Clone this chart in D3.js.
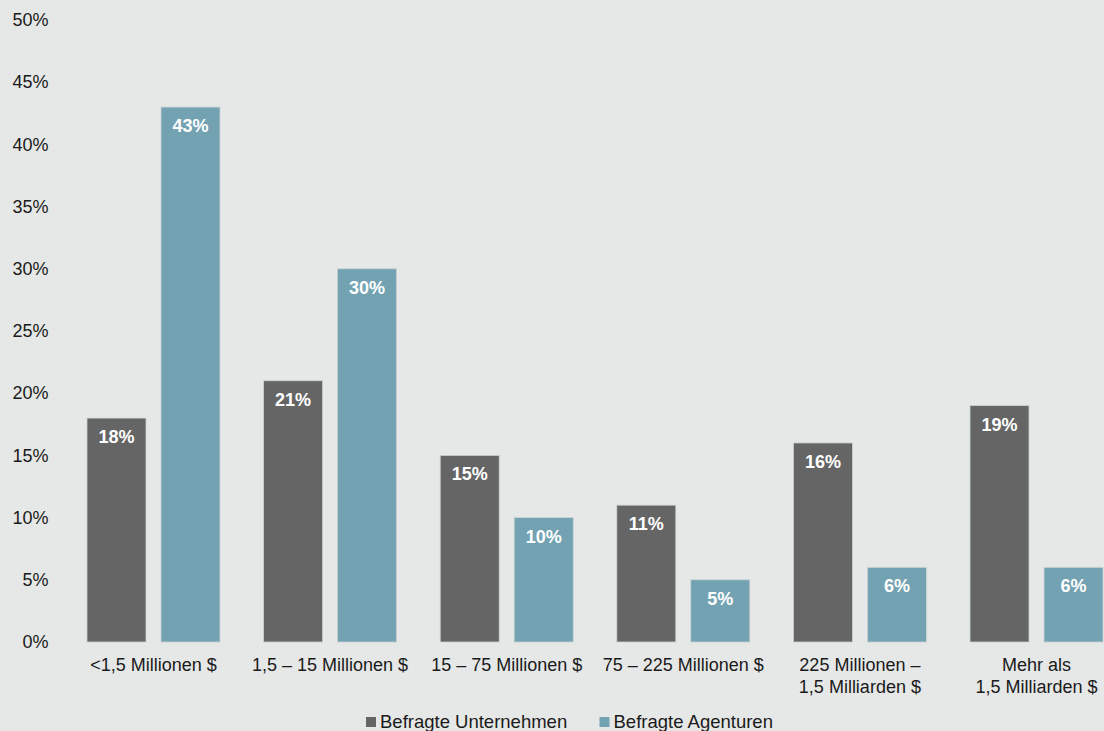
<!DOCTYPE html>
<html>
<head>
<meta charset="utf-8">
<script src="https://cdn.jsdelivr.net/npm/d3@7"></script>
<style>
  html, body { margin: 0; padding: 0; background: #e6e8e7; }
  svg { display: block; font-family: "Liberation Sans", Arial, sans-serif; }
</style>
</head>
<body>
<svg id="chart" width="1104" height="731"></svg>
<script>
// Revenue bands (each label may span two lines)
const categories = [
  ["<1,5 Millionen $"],
  ["1,5 – 15 Millionen $"],
  ["15 – 75 Millionen $"],
  ["75 – 225 Millionen $"],
  ["225 Millionen –", "1,5 Milliarden $"],
  ["Mehr als", "1,5 Milliarden $"]
];
const seriesNames = ["Befragte Unternehmen", "Befragte Agenturen"];
const unternehmen = [18, 21, 15, 11, 16, 19];
const agenturen = [43, 30, 10, 5, 6, 6];
const yTicks = [0, 5, 10, 15, 20, 25, 30, 35, 40, 45, 50];

const colors = { "Befragte Unternehmen": "#656565", "Befragte Agenturen": "#73a2b2" };

const svg = d3.select("#chart");
const W = 1104, H = 731;
svg.append("rect").attr("width", W).attr("height", H).attr("fill", "#e6e8e7");

const keys = categories.map((c, i) => i);
const rows = keys.map(i => ({
  key: i,
  label: categories[i],
  values: [
    { series: seriesNames[0], value: unternehmen[i] },
    { series: seriesNames[1], value: agenturen[i] }
  ]
}));

const x0 = d3.scaleBand().domain(keys).range([87, 1103]).paddingInner(0.247).paddingOuter(0);
const x1 = d3.scaleBand().domain(seriesNames).range([0, x0.bandwidth()]).paddingInner(0.2027).paddingOuter(0);
const y = d3.scaleLinear().domain([0, 50]).range([642, 20]);

// Y axis labels
const yAxis = d3.axisLeft(y).tickValues(yTicks).tickFormat(d => d + "%").tickSize(0).tickPadding(0);
const yg = svg.append("g").attr("transform", "translate(48.5,0)").call(yAxis);
yg.select(".domain").remove();
yg.selectAll("text")
  .attr("font-size", 18)
  .attr("font-family", "Liberation Sans, Arial, sans-serif")
  .attr("fill", "#1a1a1a");

// Bars
const groups = svg.append("g").selectAll("g").data(rows).join("g")
  .attr("transform", d => `translate(${x0(d.key)},0)`);

groups.selectAll("rect").data(d => d.values).join("rect")
  .attr("x", d => x1(d.series))
  .attr("y", d => y(d.value))
  .attr("width", x1.bandwidth())
  .attr("height", d => y(0) - y(d.value))
  .attr("fill", d => colors[d.series])
  .attr("stroke", "#c9d2d3")
  .attr("stroke-width", 0.8);

// Value labels inside the bars
groups.selectAll("text.val").data(d => d.values).join("text")
  .attr("class", "val")
  .attr("x", d => x1(d.series) + x1.bandwidth() / 2)
  .attr("y", d => y(d.value) + 25)
  .attr("text-anchor", "middle")
  .attr("font-size", 18)
  .attr("font-weight", "bold")
  .attr("fill", "#ffffff")
  .text(d => d.value + "%");

// Category labels below the baseline
const xl = svg.append("g").selectAll("text").data(rows).join("text")
  .attr("x", d => x0(d.key) + x0.bandwidth() / 2)
  .attr("y", 671)
  .attr("text-anchor", "middle")
  .attr("font-size", 18)
  .attr("fill", "#1a1a1a");
xl.selectAll("tspan").data(d => d.label).join("tspan")
  .attr("x", function () { return d3.select(this.parentNode).attr("x"); })
  .attr("dy", (d, i) => i === 0 ? 0 : 22)
  .text(d => d);

// Legend
const legendX = [366, 599.5];
const lg = svg.append("g").selectAll("g").data(seriesNames).join("g")
  .attr("transform", (d, i) => `translate(${legendX[i]},717)`);
lg.append("rect").attr("width", 10).attr("height", 10).attr("fill", d => colors[d]);
lg.append("text")
  .attr("x", 14)
  .attr("y", 11)
  .attr("font-size", 18.5)
  .attr("fill", "#1a1a1a")
  .text(d => d);
</script>
</body>
</html>
